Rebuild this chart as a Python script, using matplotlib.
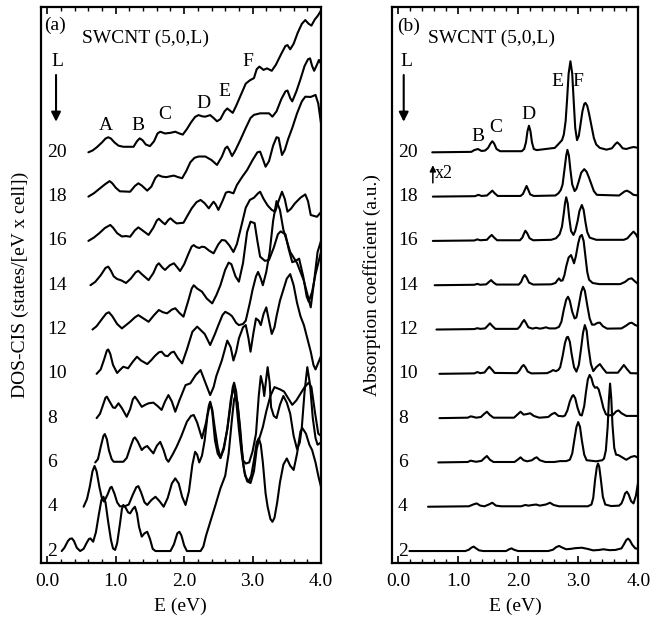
import matplotlib.pyplot as plt
from matplotlib.ticker import MultipleLocator, FormatStrFormatter

plt.rcParams['font.family'] = ['Liberation Serif', 'DejaVu Serif']

# chain lengths, one stacked curve per L (curve baseline sits at y = L)
L_values = [2, 4, 6, 8, 10, 12, 14, 16, 18, 20]

# ---- panel (a): DOS-CIS, (E [eV], height above baseline)
dos_L20 = [(0.60, 0.00), (0.66, 0.08), (0.72, 0.22), (0.80, 0.45), (0.85, 0.62), (0.89, 0.68), (0.93, 0.62),
           (0.98, 0.45), (1.04, 0.30), (1.11, 0.25), (1.26, 0.25), (1.31, 0.50), (1.35, 0.63), (1.39, 0.55),
           (1.44, 0.35), (1.50, 0.28), (1.56, 0.50), (1.61, 0.85), (1.65, 0.93), (1.72, 0.85), (1.80, 0.88),
           (1.87, 0.93), (1.93, 0.85), (1.98, 0.80), (2.04, 1.05), (2.10, 1.35), (2.16, 1.60), (2.21, 1.68),
           (2.27, 1.62), (2.31, 1.61), (2.38, 1.68), (2.43, 1.55), (2.48, 1.40), (2.53, 1.50), (2.59, 1.85),
           (2.63, 1.98), (2.67, 1.88), (2.71, 1.78), (2.76, 2.10), (2.83, 2.60), (2.90, 3.10), (2.96, 3.25),
           (3.02, 3.35), (3.06, 3.75), (3.10, 3.87), (3.16, 3.72), (3.21, 3.79), (3.28, 3.68), (3.34, 3.95),
           (3.42, 4.45), (3.48, 4.80), (3.51, 4.84), (3.55, 4.65), (3.60, 4.90), (3.66, 5.40), (3.72, 5.80),
           (3.77, 5.97), (3.82, 5.80), (3.86, 5.72), (3.91, 6.00), (3.95, 6.15), (4.00, 6.40)]
dos_L18 = [(0.60, 0.00), (0.68, 0.15), (0.76, 0.35), (0.84, 0.55), (0.91, 0.70), (0.95, 0.60), (1.00, 0.40),
           (1.06, 0.24), (1.21, 0.22), (1.28, 0.48), (1.33, 0.60), (1.38, 0.50), (1.46, 0.27), (1.52, 0.45),
           (1.58, 0.85), (1.62, 0.97), (1.68, 0.90), (1.74, 0.88), (1.80, 0.92), (1.85, 0.95), (1.91, 0.88),
           (1.97, 0.83), (2.03, 1.15), (2.09, 1.55), (2.15, 1.75), (2.21, 1.81), (2.31, 1.81), (2.40, 1.65),
           (2.48, 1.43), (2.55, 1.80), (2.60, 2.18), (2.63, 2.26), (2.66, 2.10), (2.70, 1.83), (2.75, 2.10),
           (2.82, 2.55), (2.90, 3.10), (2.97, 3.55), (3.02, 3.69), (3.11, 3.76), (3.24, 3.76), (3.29, 3.61),
           (3.35, 3.85), (3.42, 4.40), (3.48, 4.75), (3.51, 4.79), (3.55, 4.45), (3.58, 4.30), (3.64, 4.75),
           (3.70, 5.30), (3.76, 5.90), (3.81, 6.20), (3.84, 6.24), (3.87, 5.90), (3.90, 5.68), (3.94, 5.95),
           (3.97, 6.17), (4.00, 6.00)]
dos_L16 = [(0.60, 0.00), (0.68, 0.15), (0.76, 0.35), (0.84, 0.58), (0.92, 0.72), (0.96, 0.60), (1.02, 0.35),
           (1.09, 0.20), (1.15, 0.22), (1.21, 0.19), (1.28, 0.48), (1.33, 0.61), (1.38, 0.50), (1.48, 0.27),
           (1.55, 0.60), (1.60, 0.92), (1.63, 1.00), (1.68, 0.85), (1.72, 0.75), (1.77, 0.95), (1.80, 1.02),
           (1.85, 0.88), (1.89, 0.79), (1.99, 0.82), (2.05, 1.15), (2.11, 1.47), (2.18, 1.75), (2.24, 1.85),
           (2.30, 1.70), (2.36, 1.47), (2.40, 1.65), (2.43, 1.77), (2.46, 1.65), (2.50, 1.40), (2.56, 1.80),
           (2.61, 2.18), (2.65, 2.22), (2.72, 2.15), (2.77, 2.52), (2.85, 2.90), (2.92, 3.20), (3.00, 3.65),
           (3.07, 4.00), (3.11, 4.03), (3.15, 3.70), (3.19, 3.35), (3.24, 3.60), (3.30, 4.30), (3.35, 4.68),
           (3.38, 4.65), (3.43, 3.88), (3.47, 4.10), (3.52, 4.60), (3.58, 5.10), (3.65, 5.76), (3.72, 6.30),
           (3.77, 6.51), (3.85, 6.50), (3.92, 6.59), (3.96, 6.20), (4.00, 5.31)]
dos_L14 = [(0.63, 0.00), (0.70, 0.15), (0.78, 0.45), (0.85, 0.78), (0.89, 0.84), (0.93, 0.65), (0.97, 0.40),
           (1.02, 0.28), (1.08, 0.22), (1.15, 0.10), (1.22, 0.30), (1.29, 0.58), (1.33, 0.65), (1.38, 0.50),
           (1.48, 0.23), (1.55, 0.55), (1.60, 0.90), (1.63, 0.99), (1.68, 0.80), (1.72, 0.69), (1.79, 0.90),
           (1.85, 0.99), (1.90, 0.80), (1.94, 0.64), (2.00, 0.95), (2.06, 1.40), (2.11, 1.75), (2.14, 1.81),
           (2.18, 1.72), (2.22, 1.68), (2.26, 1.74), (2.30, 1.72), (2.37, 1.55), (2.43, 1.44), (2.50, 1.85),
           (2.55, 2.04), (2.60, 2.02), (2.66, 1.80), (2.72, 1.50), (2.77, 1.85), (2.83, 2.60), (2.90, 3.50),
           (2.96, 3.85), (3.02, 3.95), (3.08, 4.15), (3.11, 4.22), (3.16, 3.90), (3.22, 3.60), (3.28, 3.40),
           (3.33, 3.32), (3.38, 3.80), (3.43, 4.22), (3.47, 3.90), (3.51, 3.32), (3.56, 3.45), (3.62, 3.70),
           (3.70, 3.95), (3.77, 4.10), (3.81, 3.80), (3.85, 3.17), (3.94, 3.09), (4.00, 3.30)]
dos_L12 = [(0.66, 0.00), (0.72, 0.15), (0.80, 0.48), (0.86, 0.72), (0.90, 0.78), (0.95, 0.60), (1.02, 0.25),
           (1.09, 0.05), (1.15, 0.20), (1.21, 0.35), (1.28, 0.55), (1.33, 0.65), (1.38, 0.55), (1.48, 0.35),
           (1.56, 0.65), (1.63, 0.88), (1.69, 0.78), (1.75, 0.73), (1.82, 0.90), (1.87, 0.96), (1.93, 0.75),
           (1.99, 0.58), (2.06, 1.30), (2.11, 1.85), (2.14, 2.00), (2.19, 1.85), (2.26, 1.71), (2.33, 1.40),
           (2.41, 1.18), (2.47, 1.55), (2.53, 2.00), (2.60, 2.70), (2.65, 3.02), (2.69, 2.95), (2.75, 2.40),
           (2.80, 2.16), (2.86, 3.00), (2.92, 4.40), (2.97, 4.87), (3.03, 4.80), (3.07, 4.00), (3.11, 3.29),
           (3.18, 3.10), (3.24, 3.14), (3.31, 3.70), (3.37, 4.30), (3.41, 4.43), (3.48, 4.30), (3.53, 3.60),
           (3.58, 3.04), (3.63, 3.10), (3.68, 3.20), (3.74, 2.40), (3.79, 1.50), (3.82, 1.26), (3.87, 1.70),
           (3.92, 2.50), (4.00, 3.50)]
dos_L10 = [(0.72, 0.00), (0.78, 0.20), (0.83, 0.65), (0.87, 1.05), (0.89, 1.10), (0.92, 0.90), (0.96, 0.40),
           (1.02, 0.04), (1.07, 0.20), (1.11, 0.32), (1.18, 0.25), (1.25, 0.55), (1.31, 0.77), (1.37, 0.60),
           (1.46, 0.44), (1.52, 0.62), (1.57, 0.80), (1.63, 0.97), (1.67, 1.00), (1.72, 0.82), (1.76, 0.80),
           (1.81, 0.96), (1.85, 1.00), (1.91, 0.70), (1.97, 0.47), (2.04, 1.10), (2.12, 1.90), (2.19, 2.13),
           (2.25, 1.95), (2.30, 1.80), (2.38, 1.30), (2.45, 1.80), (2.50, 2.20), (2.56, 2.65), (2.60, 2.80),
           (2.66, 2.70), (2.70, 2.60), (2.76, 2.30), (2.80, 2.20), (2.86, 2.25), (2.90, 2.40), (2.96, 3.20),
           (3.00, 3.80), (3.05, 4.40), (3.08, 4.60), (3.12, 4.30), (3.15, 4.00), (3.20, 4.60), (3.25, 5.50),
           (3.30, 6.90), (3.35, 7.80), (3.40, 7.40), (3.45, 6.50), (3.55, 5.50), (3.65, 5.00), (3.75, 4.20),
           (3.85, 3.00), (3.90, 4.20), (3.95, 5.50), (4.00, 6.00)]
dos_L8 = [(0.72, 0.00), (0.77, 0.20), (0.82, 0.65), (0.85, 0.92), (0.87, 0.97), (0.91, 0.75), (0.96, 0.48),
          (0.99, 0.46), (1.04, 0.67), (1.09, 0.45), (1.16, 0.06), (1.21, 0.40), (1.25, 0.85), (1.28, 0.97),
          (1.32, 0.80), (1.38, 0.51), (1.43, 0.60), (1.48, 0.67), (1.55, 0.70), (1.61, 0.55), (1.67, 0.37),
          (1.72, 0.75), (1.77, 1.04), (1.82, 0.75), (1.87, 0.29), (1.93, 0.80), (2.02, 1.49), (2.09, 1.57),
          (2.17, 1.95), (2.24, 2.17), (2.31, 1.60), (2.38, 1.04), (2.43, 1.40), (2.47, 1.90), (2.55, 2.60),
          (2.63, 3.50), (2.68, 3.20), (2.72, 2.60), (2.76, 3.00), (2.80, 3.60), (2.86, 4.10), (2.90, 4.20),
          (2.94, 3.60), (2.97, 3.00), (3.01, 3.80), (3.05, 4.50), (3.09, 4.40), (3.12, 4.20), (3.16, 4.70),
          (3.20, 5.00), (3.24, 4.40), (3.28, 3.80), (3.32, 4.10), (3.35, 4.60), (3.40, 5.30), (3.45, 5.80),
          (3.50, 6.30), (3.55, 6.50), (3.60, 6.00), (3.65, 5.20), (3.70, 4.60), (3.75, 4.20), (3.80, 3.60),
          (3.85, 3.00), (3.89, 2.40), (3.92, 2.20), (3.96, 2.50), (4.00, 2.80)]
dos_L6 = [(0.70, 0.00), (0.74, 0.15), (0.78, 0.70), (0.82, 1.20), (0.84, 1.28), (0.87, 1.05), (0.90, 0.55),
          (0.94, 0.15), (0.97, 0.03), (1.11, 0.03), (1.16, 0.20), (1.22, 0.75), (1.26, 1.08), (1.28, 1.13),
          (1.32, 0.95), (1.38, 0.56), (1.42, 0.68), (1.46, 0.74), (1.51, 0.55), (1.55, 0.41), (1.60, 0.75),
          (1.65, 0.93), (1.70, 0.55), (1.74, 0.15), (1.77, 0.03), (1.83, 0.35), (1.89, 0.71), (1.96, 1.20),
          (2.04, 1.84), (2.10, 2.10), (2.14, 2.14), (2.19, 1.80), (2.26, 1.09), (2.32, 1.80), (2.36, 2.55),
          (2.38, 2.74), (2.41, 2.40), (2.45, 1.50), (2.49, 0.70), (2.53, 0.20), (2.58, 0.70), (2.63, 1.50),
          (2.68, 2.60), (2.71, 3.40), (2.73, 3.60), (2.76, 3.20), (2.80, 2.00), (2.83, 0.90), (2.86, 0.10),
          (2.90, -0.05), (2.95, 0.00), (3.00, 0.50), (3.05, 1.30), (3.09, 3.00), (3.12, 3.90), (3.15, 3.50),
          (3.17, 3.00), (3.20, 3.80), (3.22, 4.30), (3.25, 3.60), (3.27, 2.50), (3.31, 2.10), (3.35, 2.00),
          (3.40, 2.60), (3.45, 3.00), (3.50, 2.70), (3.55, 2.20), (3.60, 1.20), (3.65, 0.60), (3.69, 0.90),
          (3.72, 1.60), (3.76, 3.20), (3.80, 4.30), (3.84, 3.50), (3.88, 2.00), (3.92, 1.10), (3.95, 0.80),
          (4.00, 0.90)]
dos_L4 = [(0.53, 0.00), (0.58, 0.35), (0.62, 0.90), (0.66, 1.60), (0.69, 1.84), (0.72, 1.60), (0.76, 0.90),
          (0.80, 0.35), (0.83, 0.23), (0.88, 0.55), (0.92, 0.86), (0.94, 0.90), (0.98, 0.60), (1.02, 0.20),
          (1.06, 0.02), (1.13, 0.02), (1.19, 0.10), (1.25, 0.55), (1.30, 0.88), (1.33, 0.93), (1.37, 0.65),
          (1.42, 0.20), (1.46, 0.08), (1.52, 0.30), (1.58, 0.45), (1.64, 0.25), (1.70, 0.00), (1.76, 0.40),
          (1.82, 1.05), (1.87, 1.28), (1.92, 1.05), (1.97, 0.45), (2.02, 0.08), (2.07, 0.70), (2.12, 1.90),
          (2.16, 2.48), (2.19, 2.35), (2.22, 2.00), (2.26, 2.30), (2.30, 3.00), (2.34, 4.10), (2.38, 4.70),
          (2.41, 4.30), (2.45, 3.00), (2.49, 2.40), (2.53, 2.20), (2.58, 2.60), (2.63, 3.50), (2.68, 4.80),
          (2.72, 5.40), (2.76, 4.80), (2.80, 3.50), (2.84, 2.40), (2.88, 1.60), (2.92, 1.15), (2.97, 1.07),
          (3.02, 1.60), (3.06, 2.60), (3.10, 3.10), (3.15, 3.60), (3.20, 4.30), (3.26, 5.00), (3.32, 5.40),
          (3.40, 5.30), (3.46, 5.20), (3.52, 4.90), (3.58, 4.60), (3.64, 4.80), (3.70, 5.10), (3.76, 5.40),
          (3.82, 5.60), (3.86, 5.40), (3.91, 4.30), (3.96, 3.30), (4.00, 3.20)]
dos_L2 = [(0.21, 0.00), (0.25, 0.15), (0.30, 0.45), (0.33, 0.55), (0.36, 0.57), (0.39, 0.45), (0.43, 0.15),
          (0.48, 0.00), (0.53, 0.10), (0.58, 0.40), (0.61, 0.55), (0.63, 0.57), (0.67, 0.42), (0.71, 0.85),
          (0.75, 1.60), (0.79, 2.30), (0.82, 2.45), (0.85, 2.20), (0.89, 1.30), (0.93, 0.50), (0.96, 0.12),
          (0.99, 0.05), (1.02, 0.35), (1.06, 1.20), (1.09, 1.90), (1.11, 2.08), (1.14, 1.98), (1.18, 1.75),
          (1.21, 1.70), (1.25, 1.90), (1.28, 2.00), (1.31, 1.70), (1.34, 1.10), (1.38, 0.65), (1.42, 0.80),
          (1.46, 0.87), (1.50, 0.55), (1.54, 0.10), (1.58, 0.00), (1.80, 0.00), (1.85, 0.30), (1.90, 0.80),
          (1.93, 0.87), (1.96, 0.70), (2.00, 0.25), (2.04, 0.00), (2.24, 0.00), (2.28, 0.20), (2.32, 0.70),
          (2.36, 1.10), (2.40, 1.50), (2.45, 2.00), (2.53, 2.83), (2.60, 3.40), (2.65, 4.40), (2.70, 6.00),
          (2.73, 6.85), (2.75, 7.00), (2.78, 6.70), (2.82, 5.50), (2.86, 4.00), (2.89, 3.40), (2.94, 3.13),
          (2.98, 3.40), (3.02, 4.10), (3.06, 4.90), (3.09, 5.09), (3.12, 4.80), (3.15, 4.00), (3.19, 2.60),
          (3.22, 2.00), (3.26, 1.45), (3.29, 1.32), (3.32, 1.50), (3.36, 2.20), (3.40, 3.10), (3.45, 3.90),
          (3.50, 4.18), (3.55, 3.85), (3.60, 3.66), (3.65, 4.40), (3.70, 5.40), (3.73, 5.54), (3.78, 5.30),
          (3.83, 4.80), (3.87, 4.56), (3.92, 4.00), (3.96, 3.40), (4.00, 2.90)]

# ---- panel (b): absorption coefficient, (E [eV], height above baseline)
abs_L20 = [(0.57, 0.00), (1.22, 0.02), (1.27, 0.10), (1.33, 0.15), (1.39, 0.06), (1.45, 0.08), (1.50, 0.20),
           (1.54, 0.40), (1.57, 0.50), (1.60, 0.40), (1.64, 0.15), (1.70, 0.05), (2.06, 0.05), (2.10, 0.15),
           (2.13, 0.45), (2.155, 0.95), (2.18, 1.20), (2.205, 0.95), (2.23, 0.45), (2.26, 0.15), (2.31, 0.10),
           (2.61, 0.20), (2.68, 0.40), (2.73, 0.55), (2.76, 0.80), (2.79, 1.40), (2.815, 2.40), (2.84, 3.55),
           (2.87, 4.11), (2.90, 3.55), (2.925, 2.30), (2.95, 1.10), (2.98, 0.55), (3.01, 0.75), (3.04, 1.30),
           (3.07, 1.85), (3.10, 2.18), (3.12, 2.23), (3.15, 2.10), (3.18, 1.75), (3.22, 1.20), (3.26, 0.65),
           (3.30, 0.35), (3.36, 0.20), (3.47, 0.12), (3.56, 0.18), (3.62, 0.38), (3.65, 0.45), (3.69, 0.35),
           (3.74, 0.18), (3.80, 0.15), (3.86, 0.20), (3.92, 0.24), (4.00, 0.20)]
abs_L18 = [(0.58, 0.00), (1.28, 0.02), (1.34, 0.08), (1.39, 0.03), (1.48, 0.05), (1.53, 0.17), (1.57, 0.27),
           (1.61, 0.15), (1.66, 0.03), (2.04, 0.03), (2.08, 0.12), (2.11, 0.30), (2.14, 0.48), (2.17, 0.30),
           (2.20, 0.10), (2.26, 0.03), (2.62, 0.05), (2.67, 0.15), (2.71, 0.30), (2.74, 0.55), (2.77, 1.20),
           (2.80, 1.85), (2.82, 2.11), (2.845, 1.85), (2.87, 1.20), (2.90, 0.55), (2.94, 0.25), (2.97, 0.35),
           (3.01, 0.70), (3.05, 1.08), (3.10, 1.24), (3.14, 1.12), (3.18, 0.85), (3.22, 0.55), (3.26, 0.25),
           (3.31, 0.08), (3.68, 0.05), (3.73, 0.15), (3.77, 0.23), (3.81, 0.27), (3.86, 0.20), (3.92, 0.08),
           (4.00, 0.05)]
abs_L16 = [(0.58, 0.00), (1.27, 0.02), (1.32, 0.07), (1.37, 0.03), (1.48, 0.05), (1.52, 0.17), (1.56, 0.27),
           (1.60, 0.15), (1.65, 0.03), (2.03, 0.03), (2.07, 0.15), (2.10, 0.35), (2.12, 0.46), (2.15, 0.35),
           (2.19, 0.12), (2.25, 0.03), (2.55, 0.05), (2.63, 0.12), (2.69, 0.30), (2.73, 0.65), (2.76, 1.25),
           (2.78, 1.70), (2.80, 1.97), (2.825, 1.70), (2.85, 1.05), (2.88, 0.45), (2.92, 0.27), (2.95, 0.45),
           (2.99, 0.90), (3.02, 1.35), (3.06, 1.62), (3.09, 1.40), (3.12, 0.85), (3.15, 0.40), (3.19, 0.15),
           (3.30, 0.05), (3.76, 0.05), (3.82, 0.12), (3.87, 0.28), (3.92, 0.42), (3.96, 0.30), (4.00, 0.10)]
abs_L14 = [(0.61, 0.00), (1.27, 0.02), (1.32, 0.06), (1.37, 0.02), (1.47, 0.04), (1.51, 0.14), (1.55, 0.23),
           (1.59, 0.12), (1.64, 0.03), (2.01, 0.03), (2.05, 0.15), (2.08, 0.35), (2.11, 0.46), (2.14, 0.35),
           (2.18, 0.12), (2.25, 0.03), (2.55, 0.04), (2.62, 0.10), (2.66, 0.25), (2.68, 0.31), (2.71, 0.20),
           (2.74, 0.22), (2.77, 0.45), (2.80, 0.85), (2.84, 1.25), (2.88, 1.36), (2.91, 1.15), (2.93, 0.99),
           (2.96, 1.30), (3.00, 1.90), (3.03, 2.20), (3.06, 2.27), (3.09, 2.00), (3.12, 1.30), (3.15, 0.60),
           (3.18, 0.25), (3.24, 0.10), (3.35, 0.05), (3.70, 0.05), (3.78, 0.15), (3.84, 0.28), (3.89, 0.31),
           (3.94, 0.18), (4.00, 0.05)]
abs_L12 = [(0.64, 0.00), (1.27, 0.02), (1.32, 0.06), (1.37, 0.03), (1.45, 0.05), (1.49, 0.16), (1.53, 0.28),
           (1.57, 0.16), (1.62, 0.03), (1.99, 0.03), (2.03, 0.14), (2.07, 0.33), (2.10, 0.43), (2.13, 0.30),
           (2.17, 0.10), (2.24, 0.04), (2.30, 0.08), (2.36, 0.04), (2.41, 0.06), (2.46, 0.10), (2.52, 0.05),
           (2.62, 0.05), (2.68, 0.12), (2.72, 0.35), (2.76, 0.90), (2.80, 1.35), (2.83, 1.48), (2.86, 1.30),
           (2.90, 0.80), (2.94, 0.50), (2.97, 0.55), (3.01, 1.10), (3.05, 1.70), (3.08, 1.93), (3.11, 1.75),
           (3.15, 1.10), (3.19, 0.50), (3.23, 0.22), (3.27, 0.22), (3.32, 0.30), (3.36, 0.31), (3.41, 0.15),
           (3.48, 0.04), (3.72, 0.05), (3.80, 0.18), (3.85, 0.28), (3.89, 0.31), (3.95, 0.20), (4.00, 0.15)]
abs_L10 = [(0.69, 0.00), (1.27, 0.02), (1.32, 0.08), (1.37, 0.03), (1.44, 0.06), (1.48, 0.20), (1.52, 0.32),
           (1.56, 0.20), (1.61, 0.04), (1.98, 0.03), (2.02, 0.14), (2.06, 0.32), (2.09, 0.40), (2.12, 0.30),
           (2.16, 0.10), (2.22, 0.02), (2.48, 0.03), (2.54, 0.10), (2.58, 0.17), (2.63, 0.12), (2.67, 0.18),
           (2.70, 0.30), (2.74, 0.80), (2.78, 1.40), (2.81, 1.65), (2.83, 1.67), (2.86, 1.45), (2.89, 0.90),
           (2.93, 0.30), (2.97, 0.10), (3.01, 0.40), (3.05, 1.20), (3.08, 1.85), (3.11, 2.20), (3.14, 1.95),
           (3.17, 1.20), (3.21, 0.45), (3.25, 0.12), (3.30, 0.30), (3.36, 0.44), (3.41, 0.25), (3.47, 0.05),
           (3.66, 0.05), (3.71, 0.22), (3.76, 0.40), (3.81, 0.22), (3.87, 0.03), (4.00, 0.02)]
abs_L8 = [(0.69, 0.00), (1.16, 0.02), (1.21, 0.08), (1.25, 0.06), (1.30, 0.02), (1.38, 0.05), (1.43, 0.18),
          (1.48, 0.29), (1.53, 0.14), (1.59, 0.02), (1.93, 0.02), (1.98, 0.14), (2.04, 0.29), (2.09, 0.16),
          (2.14, 0.18), (2.20, 0.22), (2.26, 0.10), (2.35, 0.02), (2.50, 0.05), (2.56, 0.18), (2.61, 0.24),
          (2.67, 0.10), (2.75, 0.08), (2.78, 0.12), (2.82, 0.35), (2.86, 0.75), (2.90, 1.00), (2.92, 1.04),
          (2.95, 0.90), (2.99, 0.45), (3.03, 0.15), (3.06, 0.12), (3.10, 0.55), (3.13, 1.20), (3.16, 1.75),
          (3.19, 1.95), (3.22, 1.80), (3.25, 1.50), (3.28, 1.37), (3.31, 1.40), (3.34, 1.30), (3.38, 0.90),
          (3.42, 0.45), (3.46, 0.18), (3.50, 0.12), (3.58, 0.15), (3.63, 0.30), (3.67, 0.35), (3.72, 0.22),
          (3.80, 0.10), (4.00, 0.10)]
abs_L6 = [(0.67, 0.00), (1.16, 0.02), (1.21, 0.08), (1.26, 0.05), (1.30, 0.03), (1.39, 0.07), (1.44, 0.20),
          (1.48, 0.29), (1.53, 0.12), (1.59, 0.02), (1.94, 0.02), (1.99, 0.12), (2.04, 0.23), (2.09, 0.10),
          (2.15, 0.05), (2.23, 0.10), (2.28, 0.20), (2.31, 0.23), (2.36, 0.10), (2.45, 0.02), (2.60, 0.02),
          (2.70, 0.06), (2.80, 0.06), (2.86, 0.12), (2.90, 0.40), (2.94, 1.10), (2.97, 1.60), (3.00, 1.82),
          (3.03, 1.60), (3.06, 1.00), (3.10, 0.35), (3.14, 0.10), (3.30, 0.05), (3.40, 0.10), (3.43, 0.18),
          (3.46, 0.55), (3.49, 1.60), (3.51, 2.80), (3.53, 3.56), (3.55, 2.90), (3.57, 1.70), (3.60, 0.65),
          (3.63, 0.35), (3.67, 0.33), (3.72, 0.25), (3.80, 0.12), (3.88, 0.25), (3.94, 0.29), (4.00, 0.20)]
abs_L4 = [(0.50, 0.00), (1.18, 0.02), (1.25, 0.10), (1.31, 0.15), (1.37, 0.05), (1.44, 0.02), (1.51, 0.10),
          (1.57, 0.18), (1.63, 0.05), (1.72, 0.02), (2.05, 0.02), (2.12, 0.08), (2.17, 0.05), (2.24, 0.08),
          (2.30, 0.10), (2.36, 0.05), (2.46, 0.10), (2.53, 0.18), (2.59, 0.08), (2.68, 0.02), (3.16, 0.02),
          (3.22, 0.10), (3.25, 0.40), (3.28, 1.20), (3.31, 1.80), (3.33, 1.95), (3.35, 1.80), (3.38, 1.15),
          (3.41, 0.45), (3.45, 0.10), (3.55, 0.03), (3.68, 0.05), (3.72, 0.15), (3.75, 0.35), (3.78, 0.60),
          (3.81, 0.68), (3.84, 0.55), (3.88, 0.25), (3.92, 0.15), (3.96, 0.50), (4.00, 1.15)]
abs_L2 = [(0.19, 0.00), (1.12, 0.00), (1.18, 0.06), (1.22, 0.15), (1.26, 0.20), (1.30, 0.12), (1.35, 0.03),
          (1.42, 0.00), (1.80, 0.00), (1.85, 0.08), (1.89, 0.12), (1.93, 0.06), (2.00, 0.00), (2.50, 0.00),
          (2.58, 0.06), (2.63, 0.17), (2.68, 0.23), (2.74, 0.15), (2.80, 0.08), (2.88, 0.10), (2.95, 0.13),
          (3.06, 0.15), (3.15, 0.10), (3.25, 0.03), (3.35, 0.05), (3.42, 0.08), (3.52, 0.04), (3.62, 0.05),
          (3.72, 0.12), (3.76, 0.30), (3.80, 0.50), (3.83, 0.56), (3.86, 0.48), (3.90, 0.28), (3.95, 0.12),
          (4.00, 0.10)]

dos_curves = [dos_L2, dos_L4, dos_L6, dos_L8, dos_L10, dos_L12, dos_L14, dos_L16, dos_L18, dos_L20]
abs_curves = [abs_L2, abs_L4, abs_L6, abs_L8, abs_L10, abs_L12, abs_L14, abs_L16, abs_L18, abs_L20]

peaks_a = [('A', 0.86, 21.2), ('B', 1.33, 21.2), ('C', 1.72, 21.7),
           ('D', 2.28, 22.2), ('E', 2.59, 22.75), ('F', 2.93, 24.1)]
peaks_b = [('B', 1.33, 20.7), ('C', 1.62, 21.1), ('D', 2.17, 21.7),
           ('E', 2.66, 23.2), ('F', 3.00, 23.2)]

fig = plt.figure(figsize=(6.66, 6.23), dpi=100)
ax_a = fig.add_axes([40.5 / 666, 60 / 623, 280.5 / 666, 556 / 623])
ax_b = fig.add_axes([392 / 666, 60 / 623, 246.3 / 666, 556 / 623])

fs = 14
for ax, curves, peaks in [(ax_a, dos_curves, peaks_a), (ax_b, abs_curves, peaks_b)]:
    for L, pts in zip(L_values, curves):
        E = [p[0] for p in pts]
        y = [L + p[1] for p in pts]
        ax.plot(E, y, color='black', lw=1.5, solid_joinstyle='round', solid_capstyle='round')
        ax.text(0.0, L, str(L), ha='left', va='center', fontsize=fs)
    for lab, e, yy in peaks:
        ax.text(e, yy, lab, ha='center', va='center', fontsize=fs)

    ax.set_xlim(-0.1, 4.0)
    ax.set_ylim(1.46, 26.56)
    ax.xaxis.set_major_locator(MultipleLocator(1.0))
    ax.xaxis.set_minor_locator(MultipleLocator(0.2))
    ax.xaxis.set_major_formatter(FormatStrFormatter('%.1f'))
    ax.tick_params(axis='x', which='both', direction='in', top=True, bottom=True,
                   labelsize=fs, pad=7)
    ax.tick_params(axis='x', which='major', length=5, width=1.2)
    ax.tick_params(axis='x', which='minor', length=3, width=1.0)
    ax.tick_params(axis='y', left=False, right=False, labelleft=False)
    for s in ax.spines.values():
        s.set_linewidth(1.6)
    ax.set_xlabel('E (eV)', fontsize=fs, labelpad=6)
    ax.text(0.5, 25.15, 'SWCNT (5,0,L)', ha='left', va='center', fontsize=fs)
    ax.text(0.14, 24.09, 'L', ha='center', va='center', fontsize=fs)

ax_a.text(0.11, 25.75, '(a)', ha='center', va='center', fontsize=fs)
ax_b.text(0.17, 25.67, '(b)', ha='center', va='center', fontsize=fs)

arrow = dict(arrowstyle='-|>', color='black', lw=1.5, mutation_scale=14, shrinkA=0, shrinkB=0)
ax_a.annotate('', xy=(0.127, 21.38), xytext=(0.127, 23.49), arrowprops=arrow)
ax_b.annotate('', xy=(0.095, 21.38), xytext=(0.095, 23.49), arrowprops=arrow)

small = dict(arrowstyle='-|>', color='black', lw=1.1, mutation_scale=9, shrinkA=0, shrinkB=0)
ax_b.annotate('', xy=(0.58, 19.42), xytext=(0.58, 18.62), arrowprops=small)
ax_b.text(0.62, 19.05, 'x2', ha='left', va='center', fontsize=13)

ax_a.set_ylabel('DOS-CIS (states/[eV x cell])', fontsize=fs, labelpad=8)
ax_b.set_ylabel('Absorption coefficient (a.u.)', fontsize=fs, labelpad=8)

fig.savefig('out.png', dpi=100)
